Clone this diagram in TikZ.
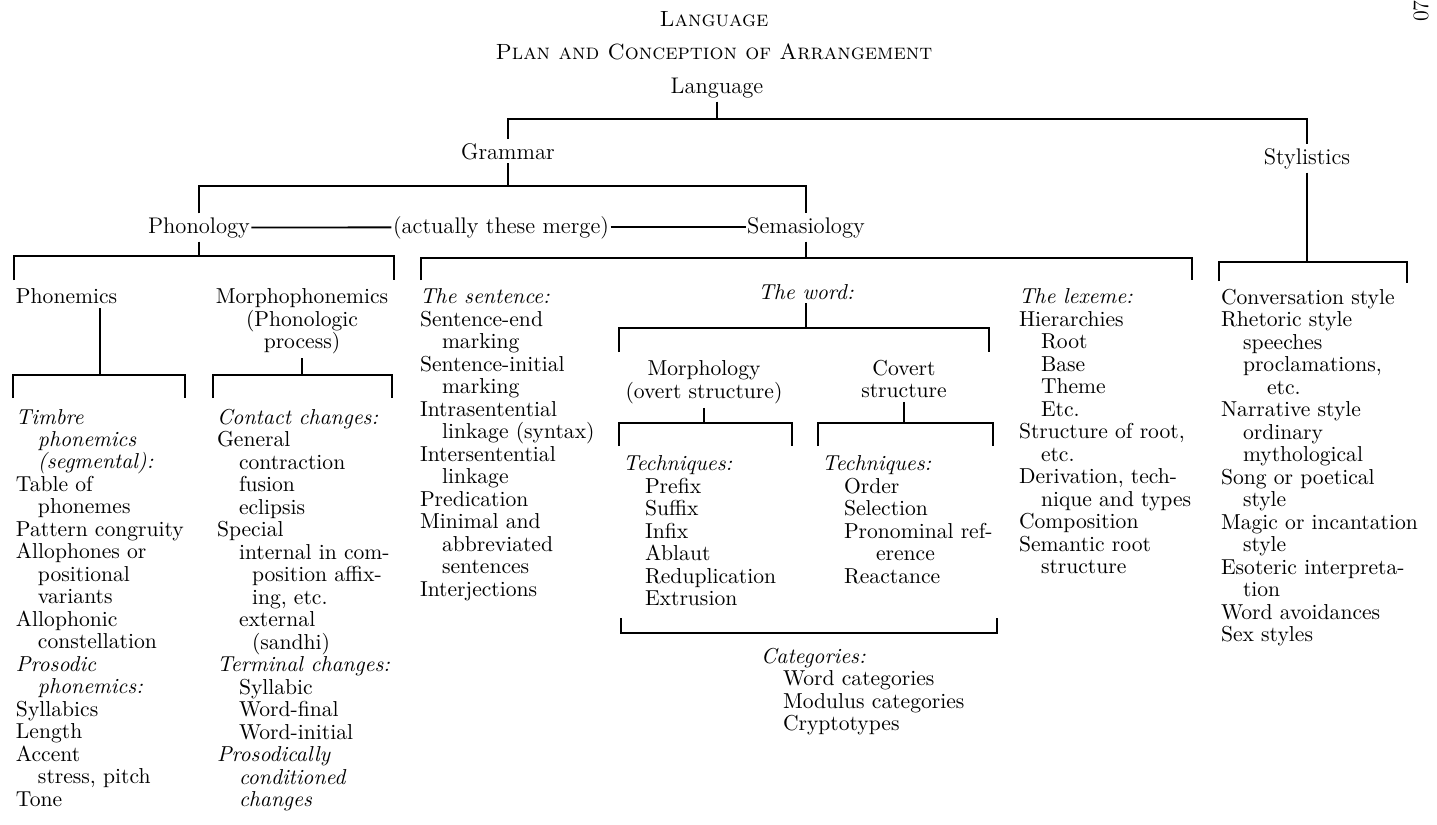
\documentclass[tikz,border=0pt]{standalone}
\usepackage{tikz}
\newcommand{\inda}{\hspace*{11pt}}
\newcommand{\indb}{\hspace*{17.5pt}}

\begin{document}
\begin{tikzpicture}[x=0.5pt, y=-0.5pt, line width=0.9pt,
  every node/.style={inner sep=0pt, outer sep=2pt, font=\fontsize{10.8}{11.25}\selectfont},
  hdr/.style={anchor=base, outer xsep=0.8pt, font=\fontsize{11.3}{13}\selectfont},
  ttl/.style={anchor=base, font=\fontsize{11}{13}\selectfont},
  col/.style={anchor=north west, align=left},
  ctr/.style={anchor=north, align=center}]
\useasboundingbox (0,0) rectangle (1437,825);

\node[ttl] (title) at (714,26) {\textsc{Language}};
\node[ttl] (subtitle) at (714,59) {\textsc{Plan and Conception of Arrangement}};
\node[rotate=90, font=\fontsize{11}{13}\selectfont] (pageno) at (1421,11) {07};

\node[hdr] (language) at (717,93) {Language};
\node[hdr] (grammar) at (508,159) {Grammar};
\node[hdr] (stylistics) at (1307,164) {Stylistics};
\node[hdr] (phonology) at (199,233) {Phonology};
\node[hdr] (merge) at (501,233) {(actually these merge)};
\node[hdr] (semasiology) at (806,233) {Semasiology};

\coordinate (lbar) at (language.south |- 0,119);
\draw (language.south) -- (lbar);
\draw (grammar.north) |- (lbar) -| (stylistics.north);

\coordinate (gbar) at (grammar.south |- 0,186);
\draw (grammar.south) -- (gbar);
\draw (phonology.north) |- (gbar) -| (semasiology.north);
\draw (phonology.east) -- (merge.west);
\draw (merge.east) -- (semasiology.west);

\coordinate (phbar) at (phonology.south |- 0,256);
\coordinate (phl) at (14,280);
\coordinate (phr) at (394,280);
\draw (phonology.south) -- (phbar);
\draw (phl) |- (phbar) -| (phr);

\coordinate (sebar) at (semasiology.south |- 0,258);
\coordinate (sel) at (421,280);
\coordinate (ser) at (1192,280);
\draw (semasiology.south) -- (sebar);
\draw (sel) |- (sebar) -| (ser);

\coordinate (stbar) at (stylistics.south |- 0,262);
\coordinate (stl) at (1219,281);
\coordinate (str) at (1407,283);
\draw (stylistics.south) -- (stbar);
\draw (stl) |- (stbar) -| (str);

\node[col] (phonemics) at (12,285) {Phonemics};
\node[ctr] (morphophon) at (302,285) {Morphophonemics\\(Phonologic\\process)};

\coordinate (pmbar) at (100,375);
\coordinate (pml) at (13,398);
\coordinate (pmr) at (185,398);
\draw (pmbar |- phonemics.south) -- (pmbar);
\draw (pml) |- (pmbar) -| (pmr);

\coordinate (mpbar) at (morphophon.south |- 0,375);
\coordinate (mpl) at (213,398);
\coordinate (mpr) at (392,398);
\draw (morphophon.south) -- (mpbar);
\draw (mpl) |- (mpbar) -| (mpr);

\node[col] (timbre) at (12,405) {\textit{Timbre}\\
\inda\textit{phonemics}\\
\inda\textit{(segmental):}\\
Table of\\
\inda phonemes\\
Pattern congruity\\
Allophones or\\
\inda positional\\
\inda variants\\
Allophonic\\
\inda constellation\\
\textit{Prosodic}\\
\inda\textit{phonemics:}\\
Syllabics\\
Length\\
Accent\\
\inda stress, pitch\\
Tone};

\node[col] (contact) at (213,405) {\textit{Contact changes:}\\
General\\
\inda contraction\\
\inda fusion\\
\inda eclipsis\\
Special\\
\inda internal in com-\\
\indb position affix-\\
\indb ing, etc.\\
\inda external\\
\indb (sandhi)\\
\textit{Terminal changes:}\\
\inda Syllabic\\
\inda Word-final\\
\inda Word-initial\\
\textit{Prosodically}\\
\inda\textit{conditioned}\\
\inda\textit{changes}};

\node[col] (sentence) at (416,285) {\textit{The sentence:}\\
Sentence-end\\
\inda marking\\
Sentence-initial\\
\inda marking\\
Intrasentential\\
\inda linkage (syntax)\\
Intersentential\\
\inda linkage\\
Predication\\
Minimal and\\
\inda abbreviated\\
\inda sentences\\
Interjections};

\node[anchor=base] (word) at (806,299) {\textit{The word:}};
\coordinate (wbar) at (word.south |- 0,328);
\coordinate (wl) at (619,352);
\coordinate (wr) at (989,352);
\draw (word.south) -- (wbar);
\draw (wl) |- (wbar) -| (wr);

\node[ctr] (morphology) at (704,357) {Morphology\\(overt structure)};
\node[ctr] (covert) at (904,356) {Covert\\structure};

\coordinate (mobar) at (morphology.south |- 0,423);
\coordinate (mol) at (619,446);
\coordinate (mor) at (792,446);
\draw (morphology.south) -- (mobar);
\draw (mol) |- (mobar) -| (mor);

\coordinate (cobar) at (covert.south |- 0,423);
\coordinate (col) at (818,446);
\coordinate (cor) at (993,446);
\draw (covert.south) -- (cobar);
\draw (col) |- (cobar) -| (cor);

\node[col] (techmorph) at (619,452) {\textit{Techniques:}\\
\inda Prefix\\
\inda Suffix\\
\inda Infix\\
\inda Ablaut\\
\inda Reduplication\\
\inda Extrusion};

\node[col] (techcovert) at (818,452) {\textit{Techniques:}\\
\inda Order\\
\inda Selection\\
\inda Pronominal ref-\\
\hspace*{27pt}erence\\
\inda Reactance};

\coordinate (cl) at (621,618);
\coordinate (cr) at (997,618);
\draw (cl) |- (cr |- 0,633) -- (cr);

\node[col] (categories) at (757,644) {\textit{Categories:}\\
\inda Word categories\\
\inda Modulus categories\\
\inda Cryptotypes};

\node[col] (lexeme) at (1015,285) {\textit{The lexeme:}\\
Hierarchies\\
\inda Root\\
\inda Base\\
\inda Theme\\
\inda Etc.\\
Structure of root,\\
\inda etc.\\
Derivation, tech-\\
\inda nique and types\\
Composition\\
Semantic root\\
\inda structure};

\node[col] (styles) at (1217,285) {Conversation style\\
Rhetoric style\\
\inda speeches\\
\inda proclamations,\\
\hspace*{23pt}etc.\\
Narrative style\\
\inda ordinary\\
\inda mythological\\
Song or poetical\\
\inda style\\
Magic or incantation\\
\inda style\\
Esoteric interpreta-\\
\inda tion\\
Word avoidances\\
Sex styles};
\end{tikzpicture}
\end{document}
